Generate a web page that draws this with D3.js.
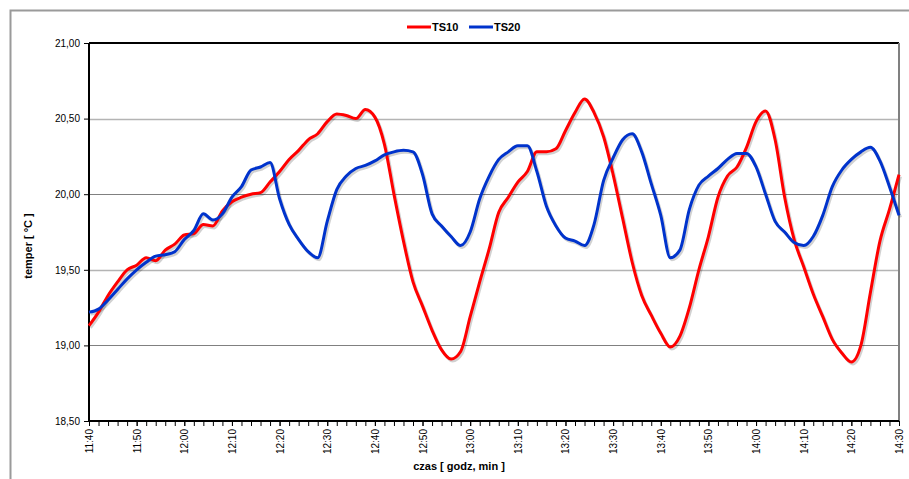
<!DOCTYPE html>
<html lang="pl">
<head>
    <meta charset="UTF-8">
    <title>TS10 / TS20</title>
    <script src="https://d3js.org/d3.v7.min.js"></script>
    <style>
        body { margin: 0; font-family: "Liberation Sans", Arial, sans-serif; background: #fff; }
        .axis text { font-size: 10px; fill: #000; }
        .axis path { display: none; }
        .axis line { stroke: #000; }
        .title { font-size: 11px; font-weight: bold; }
        .legend { font-size: 11px; font-weight: bold; }
    </style>
</head>
<body>
    <div id="chart"></div>

    <script>
        // sampling every 2 minutes starting at 11:40
        const startLabel = "11:40";
        const stepMin = 2;
        const tickLabels = ["11:40", "11:50", "12:00", "12:10", "12:20", "12:30", "12:40", "12:50", "13:00",
                            "13:10", "13:20", "13:30", "13:40", "13:50", "14:00", "14:10", "14:20", "14:30"];
        const yTicks = [18.5, 19.0, 19.5, 20.0, 20.5, 21.0];
        const seriesNames = ["TS10", "TS20"];

        const ts10 = [19.13, 19.22, 19.33, 19.42, 19.50, 19.53, 19.58, 19.56, 19.63, 19.67,
                      19.73, 19.74, 19.80, 19.79, 19.89, 19.95, 19.98, 20.00, 20.01, 20.08,
                      20.15, 20.23, 20.29, 20.36, 20.40, 20.48, 20.53, 20.52, 20.50, 20.56,
                      20.51, 20.33, 20.00, 19.69, 19.42, 19.26, 19.10, 18.97, 18.91, 18.96,
                      19.19, 19.42, 19.64, 19.88, 19.98, 20.08, 20.15, 20.28, 20.28, 20.30,
                      20.42, 20.54, 20.63, 20.54, 20.38, 20.13, 19.84, 19.55, 19.33, 19.20,
                      19.08, 18.99, 19.06, 19.25, 19.50, 19.72, 19.98, 20.12, 20.18, 20.31,
                      20.48, 20.55, 20.36, 19.98, 19.70, 19.52, 19.34, 19.19, 19.04, 18.95,
                      18.89, 19.00, 19.35, 19.69, 19.90, 20.13];

        const ts20 = [19.22, 19.24, 19.30, 19.37, 19.44, 19.50, 19.55, 19.59, 19.60, 19.62,
                      19.70, 19.76, 19.87, 19.83, 19.87, 19.98, 20.05, 20.16, 20.18, 20.21,
                      19.97, 19.80, 19.70, 19.62, 19.58, 19.82, 20.03, 20.12, 20.17, 20.19,
                      20.22, 20.26, 20.28, 20.29, 20.28, 20.13, 19.87, 19.79, 19.72, 19.66,
                      19.75, 19.97, 20.12, 20.23, 20.28, 20.32, 20.32, 20.15, 19.92, 19.79,
                      19.71, 19.69, 19.66, 19.80, 20.09, 20.24, 20.36, 20.40, 20.28, 20.07,
                      19.86, 19.58, 19.63, 19.90, 20.06, 20.12, 20.17, 20.23, 20.27, 20.27,
                      20.18, 20.00, 19.82, 19.75, 19.68, 19.66, 19.72, 19.86, 20.05, 20.16,
                      20.23, 20.28, 20.31, 20.22, 20.05, 19.86];

        const colors = ["#ff0000", "#0033cc"];

        const margin = {top: 43, right: 10, bottom: 58, left: 89};
        const width = 909 - margin.left - margin.right;
        const height = 479 - margin.top - margin.bottom;

        const root = d3.select("#chart").append("svg")
            .attr("width", 909)
            .attr("height", 479);

        // outer chart frame (runs off the page on the right and bottom)
        root.append("rect")
            .attr("x", 10.5).attr("y", 10.5)
            .attr("width", 960).attr("height", 520)
            .attr("fill", "none")
            .attr("stroke", "#9a9a9a")
            .attr("stroke-width", 2);

        const svg = root.append("g")
            .attr("transform", "translate(" + margin.left + "," + margin.top + ")");

        const totalMin = (tickLabels.length - 1) * 10;
        const x = d3.scaleLinear().domain([0, totalMin]).range([0, width]);
        const y = d3.scaleLinear().domain([18.5, 21]).range([height, 0]);

        // gridlines
        svg.selectAll(".grid")
            .data(yTicks.filter(d => d > 18.5 && d < 21))
            .enter().append("line")
            .attr("class", "grid")
            .attr("x1", 0).attr("x2", width)
            .attr("y1", d => Math.round(y(d)) + 0.5)
            .attr("y2", d => Math.round(y(d)) + 0.5)
            .attr("stroke", d => (d * 2) % 2 === 1 ? "#b4b4b4" : "#808080")
            .attr("stroke-width", d => (d * 2) % 2 === 1 ? 1.5 : 1);

        // plot area border
        svg.append("line").attr("x1", 0).attr("x2", width).attr("y1", 0).attr("y2", 0)
            .attr("stroke", "#000").attr("stroke-width", 2);
        svg.append("line").attr("x1", width).attr("x2", width).attr("y1", 0).attr("y2", height)
            .attr("stroke", "#808080").attr("stroke-width", 2);

        // y axis
        svg.append("g")
            .attr("class", "axis")
            .call(d3.axisLeft(y).tickValues(yTicks).tickSize(5).tickPadding(4)
                .tickFormat(d => d3.format(".2f")(d).replace(".", ",")));
        svg.append("line").attr("x1", 0).attr("x2", 0).attr("y1", 0).attr("y2", height)
            .attr("stroke", "#000").attr("stroke-width", 2);

        // x axis: minor ticks every 2 min, labels every 10 min
        svg.append("g")
            .attr("class", "axis")
            .attr("transform", "translate(0," + height + ")")
            .call(d3.axisBottom(x).tickValues(d3.range(0, totalMin + 1, 2)).tickSize(5).tickFormat(""));

        const xLabels = svg.append("g")
            .attr("class", "axis")
            .attr("transform", "translate(0," + height + ")")
            .call(d3.axisBottom(x).tickValues(d3.range(0, totalMin + 1, 10)).tickSize(5)
                .tickFormat((d, i) => tickLabels[i]));
        xLabels.selectAll("text")
            .attr("transform", "rotate(-90)")
            .attr("text-anchor", "end")
            .attr("x", -8)
            .attr("y", 0)
            .attr("dy", "0.35em");

        svg.append("line").attr("x1", 0).attr("x2", width).attr("y1", height).attr("y2", height)
            .attr("stroke", "#000").attr("stroke-width", 2);

        // lines
        const line = d3.line()
            .x((d, i) => x(i * stepMin))
            .y(d => y(d))
            .curve(d3.curveMonotoneX);

        const series = [ts10, ts20];

        series.forEach((s, k) => {
            svg.append("path")
                .datum(s)
                .attr("transform", "translate(1.5,2)")
                .attr("fill", "none")
                .attr("stroke", "#000")
                .attr("stroke-opacity", 0.18)
                .attr("stroke-width", 3)
                .attr("d", line);
        });

        series.forEach((s, k) => {
            svg.append("path")
                .datum(s)
                .attr("fill", "none")
                .attr("stroke", colors[k])
                .attr("stroke-width", 3)
                .attr("stroke-linejoin", "round")
                .attr("d", line);
        });

        // axis titles
        svg.append("text")
            .attr("class", "title")
            .attr("x", 370)
            .attr("y", height + 49)
            .attr("text-anchor", "middle")
            .text("czas [ godz, min ]");

        svg.append("text")
            .attr("class", "title")
            .attr("transform", "translate(-57," + (height / 2 + 14) + ") rotate(-90)")
            .attr("text-anchor", "middle")
            .text("temper [ °C ]");

        // legend
        const legend = root.selectAll(".legend")
            .data(seriesNames)
            .enter().append("g")
            .attr("class", "legend")
            .attr("transform", (d, i) => "translate(" + (407 + i * 62) + ",27)");

        legend.append("line")
            .attr("x1", 0).attr("x2", 24)
            .attr("stroke", (d, i) => colors[i])
            .attr("stroke-width", 3);

        legend.append("text")
            .attr("x", 25)
            .attr("dy", "0.35em")
            .text(d => d);
    </script>
</body>
</html>
